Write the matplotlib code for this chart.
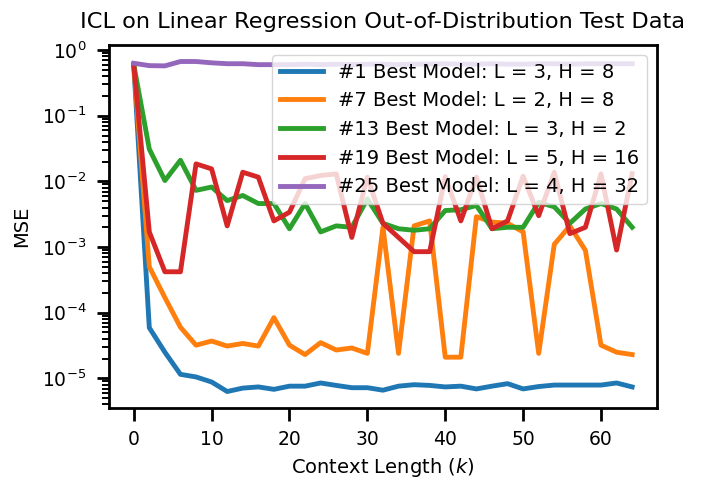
import matplotlib
matplotlib.use("Agg")
import matplotlib.pyplot as plt

# Context lengths (k)
context = list(range(0, 65, 2))

# MSE values per model
mse_1 = [0.6, 5.9e-5, 2.5e-5, 1.15e-5, 1.05e-5, 8.8e-6, 6.3e-6, 7.1e-6, 7.4e-6, 6.8e-6,
         7.6e-6, 7.6e-6, 8.5e-6, 7.8e-6, 7.2e-6, 7.2e-6, 6.6e-6, 7.6e-6, 8.0e-6, 7.8e-6,
         7.4e-6, 7.6e-6, 6.9e-6, 7.6e-6, 8.3e-6, 6.9e-6, 7.5e-6, 7.9e-6, 7.9e-6, 7.9e-6,
         7.9e-6, 8.5e-6, 7.4e-6]
mse_7 = [0.6, 5.0e-4, 1.7e-4, 6.0e-5, 3.2e-5, 3.7e-5, 3.1e-5, 3.4e-5, 3.1e-5, 8.4e-5,
         3.2e-5, 2.3e-5, 3.5e-5, 2.7e-5, 2.9e-5, 2.4e-5, 2.0e-3, 2.4e-5, 2.1e-3, 2.5e-3,
         2.1e-5, 2.1e-5, 2.9e-3, 2.4e-3, 2.3e-3, 1.7e-3, 2.4e-5, 1.1e-3, 2.1e-3, 8.9e-4,
         3.2e-5, 2.5e-5, 2.3e-5]
mse_13 = [0.6, 0.031, 0.0103, 0.021, 0.0073, 0.0082, 0.0051, 0.0061, 0.0046, 0.0046,
          0.0019, 0.0046, 0.0017, 0.0021, 0.0020, 0.0054, 0.0023, 0.0019, 0.0018, 0.0019,
          0.0036, 0.0037, 0.0043, 0.0019, 0.0020, 0.0020, 0.0048, 0.0041, 0.0023, 0.0038,
          0.0046, 0.0038, 0.0020]
mse_19 = [0.6, 0.0017, 4.2e-4, 4.2e-4, 0.0185, 0.0155, 0.0021, 0.0138, 0.0116, 0.0025,
          0.0034, 0.011, 0.0123, 0.013, 0.0014, 0.0116, 0.0023, 0.0014, 8.5e-4, 8.5e-4,
          0.0118, 0.0025, 0.0116, 0.0019, 0.0025, 0.012, 0.0030, 0.0138, 0.0016, 0.0020,
          0.013, 9.0e-4, 0.0131]
mse_25 = [0.63, 0.58, 0.575, 0.67, 0.67, 0.64, 0.62, 0.62, 0.60, 0.60,
          0.60, 0.61, 0.60, 0.61, 0.60, 0.61, 0.61, 0.60, 0.61, 0.61,
          0.62, 0.61, 0.61, 0.62, 0.61, 0.61, 0.62, 0.62, 0.61, 0.62,
          0.62, 0.62, 0.62]

labels = ["#1 Best Model: L = 3, H = 8",
          "#7 Best Model: L = 2, H = 8",
          "#13 Best Model: L = 3, H = 2",
          "#19 Best Model: L = 5, H = 16",
          "#25 Best Model: L = 4, H = 32"]
series = [mse_1, mse_7, mse_13, mse_19, mse_25]

fig = plt.figure(figsize=(7.02, 4.84), dpi=100)
ax = fig.add_axes([0.155, 0.157, 0.781, 0.750])

for values, label in zip(series, labels):
    ax.plot(context, values, label=label, linewidth=3.5)

ax.set_yscale("log")
ax.set_title("ICL on Linear Regression Out-of-Distribution Test Data", fontsize=16.2, pad=12)
ax.set_xlabel("Context Length ($k$)", fontsize=14, labelpad=5)
ax.set_ylabel("MSE", fontsize=14, labelpad=8)

# Thick frame and ticks
for spine in ax.spines.values():
    spine.set_linewidth(2)
ax.tick_params(which="major", length=9, width=2, labelsize=13.5, pad=7)
ax.tick_params(which="minor", length=5, width=1.4)

ax.legend(loc="upper right", fontsize=14, handlelength=2.2)

plt.savefig("out.png", dpi=100)
